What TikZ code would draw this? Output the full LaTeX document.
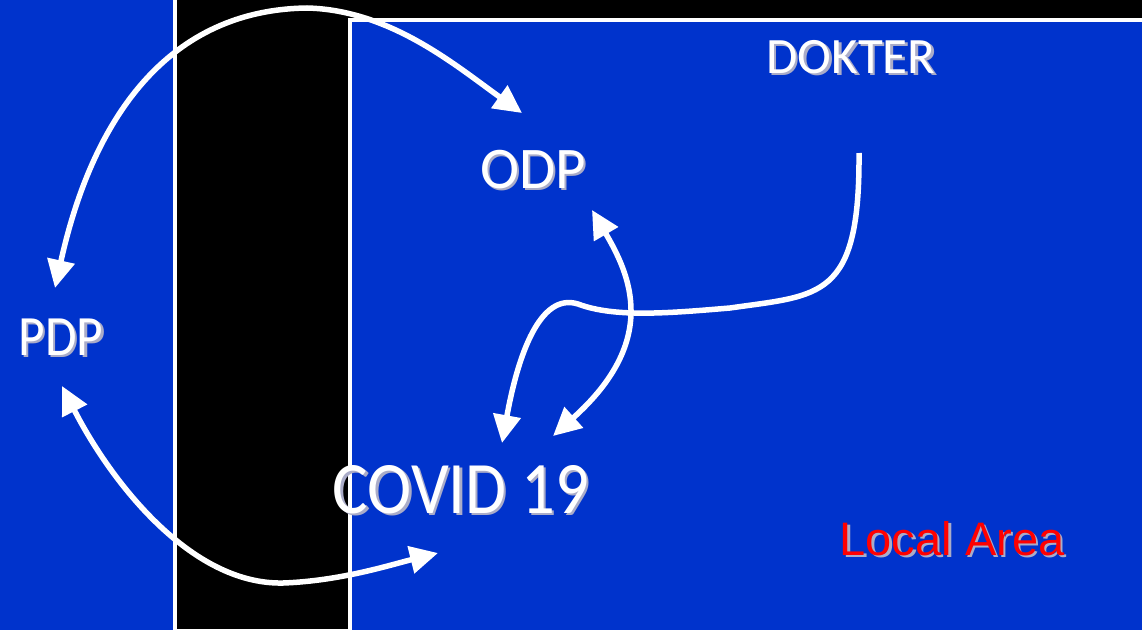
\documentclass[tikz,border=0pt]{standalone}
\usepackage{fontspec}
\setmainfont{Carlito}
\newfontfamily\arialfont{Liberation Sans}
\usetikzlibrary{arrows.meta}
\definecolor{bgblue}{RGB}{0,51,204}
\definecolor{shadowgray}{RGB}{170,172,200}
\definecolor{labelred}{RGB}{255,0,0}
\newcommand\shadowtxt[2]{\makebox[0pt][l]{\hspace{#1}\raisebox{-#1}{\textcolor{shadowgray}{#2}}}#2}
\begin{document}
\begin{tikzpicture}[x=1pt,y=-1pt,
  panel/.style={draw=white,line width=4.5pt,fill=bgblue},
  conn/.style={draw=white,line width=5.5pt},
  onetip/.style={-{Triangle[length=28pt,width=27pt]}},
  twotips/.style={{Triangle[length=28pt,width=27pt]}-{Triangle[length=28pt,width=27pt]}},
  lbl/.style={text=white,inner sep=0pt,anchor=base},
]
\useasboundingbox (0,0) rectangle (1142,629);
\clip (0,0) rectangle (1142,629);
\fill[black] (0,0) rectangle (1142,629);
\draw[panel] (-10,-10) rectangle (175,640);
\draw[panel] (350,20) rectangle (1160,640);

% text nodes
\node[lbl,font=\fontsize{51}{51}\selectfont] (dokter) at (851,73) {\shadowtxt{2.5pt}{DOKTER}};
\node[lbl,font=\fontsize{59}{59}\selectfont] (odp) at (533,188) {\shadowtxt{2.5pt}{ODP}};
\node[lbl,font=\fontsize{57}{57}\selectfont] (pdp) at (61,355) {\scalebox{0.9}[1]{\shadowtxt{2.5pt}{PDP}}};
\node[lbl,font=\fontsize{74}{74}\selectfont] (covid) at (461,513) {\scalebox{0.9}[1]{\shadowtxt{2.5pt}{COVID 19}}};
\node[lbl,text=labelred,font=\arialfont\fontsize{47}{47}\selectfont] (area) at (952,555) {\shadowtxt{2.5pt}{Local Area}};

% connector end points
\coordinate (pdpT) at (55,288);
\coordinate (pdpB) at (62,386);
\coordinate (odpL) at (522,113);
\coordinate (odpB) at (592,210);
\coordinate (covB) at (438,553);
\coordinate (covR) at (553,436);
\coordinate (covT) at (502,443);
\coordinate (dokB) at (859,153);
\coordinate (topArc) at (307,8);
\coordinate (lowArc) at (283,583);
\coordinate (bendA) at (730,308);
\coordinate (bendB) at (578,304);

\draw[conn,twotips] (pdpT) .. controls (90,130) and (160,10) .. (topArc)
  .. controls (390,10) and (455,65) .. (odpL);
\draw[conn,twotips] (pdpB) .. controls (110,480) and (190,585) .. (lowArc)
  .. controls (340,581) and (390,565) .. (covB);
\draw[conn,twotips] (odpB) .. controls (630,275) and (660,340) .. (covR);
\draw[conn,onetip] (dokB) .. controls (860,300) and (820,295) .. (bendA)
  .. controls (670,313) and (615,318) .. (bendB)
  .. controls (540,292) and (518,355) .. (covT);
\end{tikzpicture}
\end{document}
